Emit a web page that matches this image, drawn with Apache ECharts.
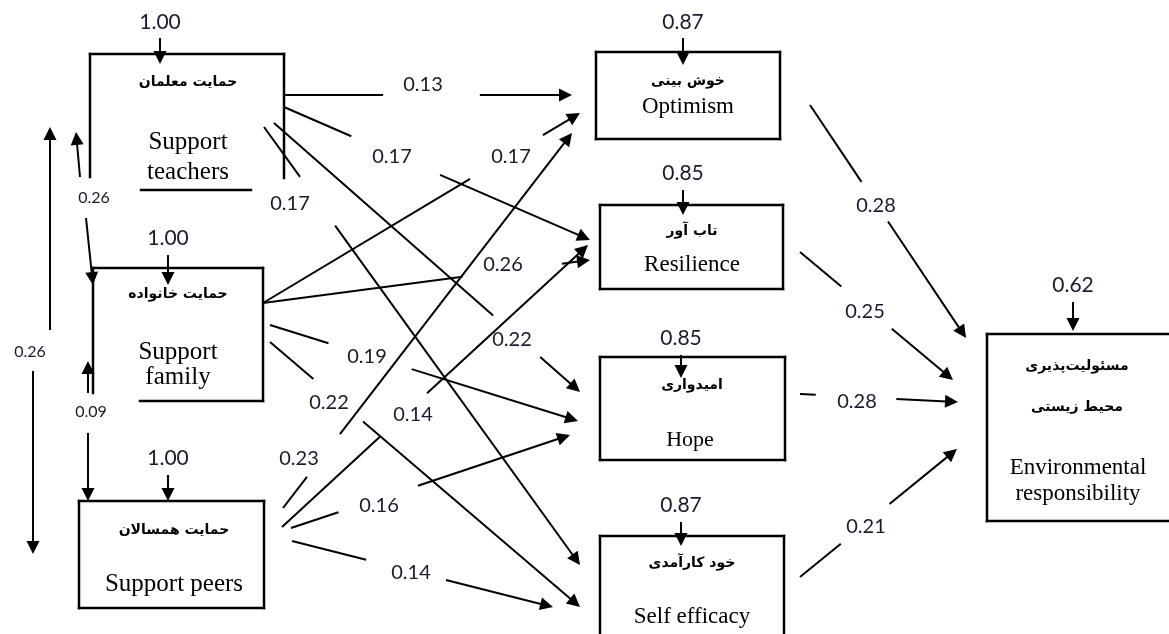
<!DOCTYPE html>
<html><head><meta charset="utf-8">
<script src="https://cdn.jsdelivr.net/npm/echarts@6/dist/echarts.min.js"></script>
<style>html,body{margin:0;padding:0;background:#fff}#c{width:1169px;height:634px}</style>
</head><body><div id="c"></div>
<script>
// ---------------- DATA ----------------
const variables = ['teachers','family','peers','optimism','resilience','hope','selfEfficacy','environment'];
const namesFa = [['حمایت معلمان'],['حمایت خانواده'],['حمایت همسالان'],['خوش بینی'],['تاب آور'],['امیدواری'],['خود کارآمدی'],['مسئولیت‌پذیری','محیط زیستی']];
const namesEn = [['Support','teachers'],['Support','family'],['Support peers'],['Optimism'],['Resilience'],['Hope'],['Self efficacy'],['Environmental','responsibility']];
const residuals = [1.00,1.00,1.00,0.87,0.85,0.85,0.87,0.62];

const pathFrom = ['teachers','teachers','teachers','teachers','family','family','family','family','peers','peers','peers','peers','optimism','resilience','hope','selfEfficacy'];
const pathTo   = ['optimism','resilience','hope','selfEfficacy','optimism','resilience','hope','selfEfficacy','optimism','resilience','hope','selfEfficacy','environment','environment','environment','environment'];
const pathCoef = [0.13,0.17,0.22,0.17,0.17,0.26,0.19,0.22,0.23,0.14,0.16,0.14,0.28,0.25,0.28,0.21];

const corrFrom = ['teachers','teachers','family'];
const corrTo   = ['peers','family','peers'];
const corrCoef = [0.26,0.26,0.09];

// ---------------- LAYOUT (diagram geometry, in canvas units) ----------------
function rect(x0,y0,x1,y1){return [[x0,y0,x1,y0],[x1,y0,x1,y1],[x1,y1,x0,y1],[x0,y1,x0,y0]];}
const layout = {
  boxes: {
    teachers:    {outline:[[90,54,284,54],[90,54,90,177],[284,54,284,178],[141,190,251,190]], fa:[[188,82]], en:[[188,142],[188,172]], enSize:25},
    family:      {outline:[[93,268,263,268],[263,268,263,401],[140,401,263,401],[93,268,93,393]], fa:[[178,294]], en:[[178,352],[178,377]], enSize:25},
    peers:       {outline:rect(79,501,264,608), fa:[[174,530]], en:[[174,584]], enSize:25},
    optimism:    {outline:rect(596,52,780,139), fa:[[688,81]], en:[[688,107]], enSize:23},
    resilience:  {outline:rect(600,205,783,289), fa:[[692,231]], en:[[692,265]], enSize:23},
    hope:        {outline:rect(600,357,785,460), fa:[[692,385]], en:[[690,440]], enSize:22},
    selfEfficacy:{outline:rect(600,536,784,660), fa:[[692,563]], en:[[692,617]], enSize:23},
    environment: {outline:rect(987,334,1180,521), fa:[[1077,366],[1077,407]], en:[[1078,468],[1078,494]], enSize:23}
  },
  residual: {
    teachers:[160,22,38,64], family:[168,238,255,285], peers:[168,458,475,501],
    optimism:[683,22,38,65], resilience:[683,173,190,215], hope:[681,338,355,378],
    selfEfficacy:[681,505,522,546], environment:[1073,285,302,331]
  },
  // [start, end, gap t0, gap t1, label]
  paths: [
    [[284,95],[572,95],0.344,0.68,[423,85]],
    [[284,107],[590,240],0.22,0.51,[392,157]],
    [[274,123],[580,392],0.716,0.87,[512,340]],
    [[264,127],[580,565],0.114,0.225,[290,204]],
    [[263,303],[580,113],0.653,0.883,[511,157]],
    [[263,303],[590,260],0.61,0.914,[503,265]],
    [[270,325],[578,421],0.19,0.46,[367,357]],
    [[270,342],[580,607],0.14,0.30,[329,403]],
    [[283,508],[572,133],0.083,0.197,[299,459]],
    [[282,527],[588,245],0.32,0.474,[413,415]],
    [[291,528],[570,435],0.17,0.455,[379,506]],
    [[292,541],[553,607],0.284,0.59,[411,573]],
    [[810,105],[966,338],0.33,0.50,[876,206]],
    [[800,252],[953,380],0.27,0.6,[865,312]],
    [[800,394],[958,402],0.10,0.61,[857,402]],
    [[800,577],[957,449],0.26,0.57,[866,527]]
  ],
  // two arrows each + label
  corr: [
    {arrows:[[50,330,50,127],[33,371,33,554]], label:[30,352]},
    {arrows:[[80,177,76,132],[86,218,93,285]], label:[94,198]},
    {arrows:[[88,393,88,361],[88,433,88,501]], label:[91,412]}
  ]
};
const ARROW = 13;

// ---------------- BUILD ----------------
const plain = [], arrows = [], numLabels = [];
function lerp(a,b,t){return [a[0]+(b[0]-a[0])*t, a[1]+(b[1]-a[1])*t];}
function arrowSeg(a,b){
  const dx=b[0]-a[0], dy=b[1]-a[1], L=Math.hypot(dx,dy), k=(ARROW/2)/L;
  arrows.push({coords:[a,[b[0]-dx*k,b[1]-dy*k]]});
}
pathCoef.forEach((c,i)=>{
  const [s,e,t0,t1,lp] = layout.paths[i];
  plain.push({coords:[s,lerp(s,e,t0)]});
  arrowSeg(lerp(s,e,t1), e);
  numLabels.push({pos:lp, text:c.toFixed(2), size:20});
});
corrCoef.forEach((c,i)=>{
  const g = layout.corr[i];
  g.arrows.forEach(a=>arrowSeg([a[0],a[1]],[a[2],a[3]]));
  numLabels.push({pos:g.label, text:c.toFixed(2), size:16});
});
variables.forEach((v,i)=>{
  const r = layout.residual[v];
  arrowSeg([r[0],r[2]],[r[0],r[3]]);
  numLabels.push({pos:[r[0],r[1]], text:residuals[i].toFixed(2), size:21});
});

const chart = echarts.init(document.getElementById('c'));
chart.setOption({
  animation:false,
  backgroundColor:'#fff',
  grid:{left:0,right:0,top:0,bottom:0},
  xAxis:{type:'value',min:0,max:1169,show:false},
  yAxis:{type:'value',min:0,max:634,inverse:true,show:false},
  series:[
    {
      type:'custom', coordinateSystem:'cartesian2d', silent:true, clip:false,
      data: variables.map((v,i)=>[i]),
      renderItem(params, api){
        const i = params.dataIndex, b = layout.boxes[variables[i]];
        const ch = b.outline.map(s=>{
          const a=api.coord([s[0],s[1]]), c=api.coord([s[2],s[3]]);
          return {type:'line', shape:{x1:a[0],y1:a[1],x2:c[0],y2:c[1]}, style:{stroke:'#000',lineWidth:2.5,lineCap:'square'}};
        });
        namesFa[i].forEach((t,k)=>{
          const p=api.coord(b.fa[k]);
          ch.push({type:'text', x:p[0], y:p[1], style:{text:t, fontFamily:'"DejaVu Sans"', fontSize:14, fontWeight:'bold', fill:'#000', align:'center', verticalAlign:'middle'}});
        });
        namesEn[i].forEach((t,k)=>{
          const p=api.coord(b.en[k]);
          ch.push({type:'text', x:p[0], y:p[1], style:{text:t, fontFamily:'"Liberation Serif"', fontSize:b.enSize, fill:'#000', align:'center', verticalAlign:'middle'}});
        });
        return {type:'group', children:ch};
      }
    },
    {
      type:'lines', coordinateSystem:'cartesian2d', silent:true,
      symbol:['none','none'],
      lineStyle:{color:'#000', width:2, opacity:1},
      data: plain
    },
    {
      type:'lines', coordinateSystem:'cartesian2d', silent:true,
      symbol:['none','triangle'], symbolSize:ARROW,
      lineStyle:{color:'#000', width:2, opacity:1},
      data: arrows
    },
    {
      type:'custom', coordinateSystem:'cartesian2d', silent:true, clip:false,
      data: numLabels.map((d,i)=>[i]),
      renderItem(params, api){
        const d = numLabels[params.dataIndex], p = api.coord(d.pos);
        return {type:'text', x:p[0], y:p[1], style:{text:d.text, fontFamily:'Lato', fontSize:d.size, fill:'#1a1a2e', align:'center', verticalAlign:'middle'}};
      }
    }
  ]
});
</script>
</body></html>
